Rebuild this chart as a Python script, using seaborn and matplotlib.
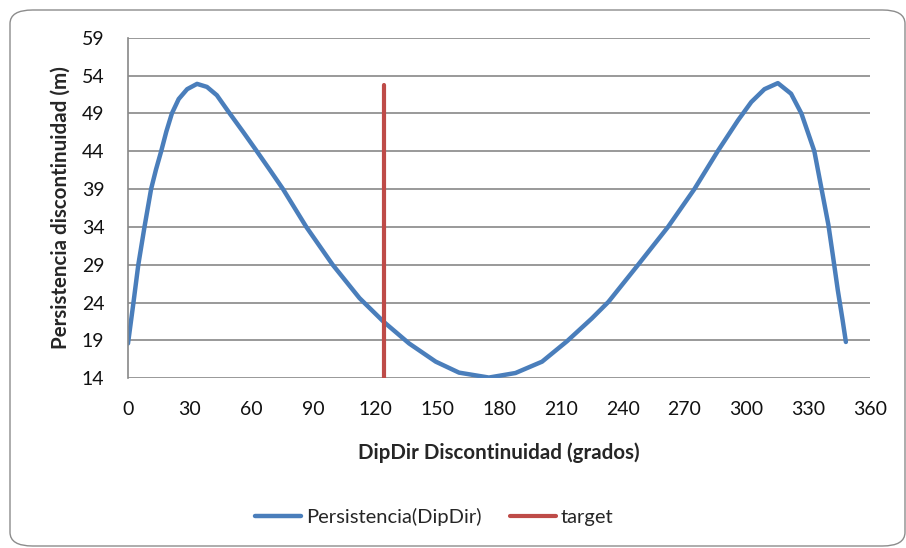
import numpy as np
import pandas as pd
import matplotlib
matplotlib.use("Agg")
import matplotlib.pyplot as plt
import seaborn as sns
from matplotlib.patches import FancyBboxPatch

# Persistencia vs DipDir
dipdir = [0, 2.6, 5.0, 8.0, 11.2, 13.6, 16.1, 18.6, 21.3, 24.6, 28.7, 33.5,
          38.3, 43.1, 48.8, 56.0, 62.5, 68.9, 75.2, 86.5, 99.3, 112.3, 123.9,
          136.4, 149.3, 160.6, 175.1, 188.0, 200.9, 213.0, 225.0, 233.1,
          247.5, 262.0, 274.8, 286.1, 296.0, 302.4, 308.8, 315.3, 321.7,
          326.7, 333.0, 336.5, 339.8, 342.0, 344.4, 346.7, 348.3]
persistencia = [18.6, 23.9, 29.0, 34.0, 39.0, 41.6, 44.0, 46.6, 49.0, 50.9,
                52.2, 52.9, 52.5, 51.4, 49.2, 46.5, 44.0, 41.5, 39.0, 34.0,
                29.0, 24.6, 21.5, 18.6, 16.2, 14.75, 14.1, 14.7, 16.2, 18.9,
                21.9, 24.1, 29.0, 34.0, 39.0, 44.0, 48.1, 50.5, 52.2, 53.0,
                51.6, 49.0, 44.0, 39.0, 34.3, 30.2, 25.6, 21.7, 18.8]

target_x = [124.3, 124.3]
target_y = [14, 52.8]

yticks = list(range(14, 60, 5))
xticks = list(range(0, 361, 30))

sns.set_theme(style="white")
plt.rcParams["font.family"] = ["Lato", "DejaVu Sans"]

fig = plt.figure(figsize=(9.06, 5.48), dpi=100)
fig.patches.append(FancyBboxPatch((10 / 906, 2 / 548), 895 / 906, 536 / 548,
                                  boxstyle="round,pad=0,rounding_size=0.025",
                                  transform=fig.transFigure, facecolor="white",
                                  edgecolor="#8c8c8c", lw=1.0, zorder=-10))

ax = fig.add_axes([128 / 906, 1 - 378.3 / 548, 742 / 906, 340.6 / 548])
ax.set_facecolor("none")

df = pd.DataFrame({"DipDir": dipdir, "Persistencia": persistencia})
sns.lineplot(data=df, x="DipDir", y="Persistencia", ax=ax, color="#4A7EBB",
             lw=3.2, sort=False, estimator=None, label="Persistencia(DipDir)")
sns.lineplot(x=target_x, y=target_y, ax=ax, color="#BE4B48", lw=3,
             estimator=None, sort=False, label="target")

ax.set_xlim(0, 360)
ax.set_ylim(14, 59)
ax.set_xticks(xticks)
ax.set_yticks(yticks)
ax.yaxis.grid(True, color="#888888", lw=1.2)
ax.xaxis.grid(False)
for side in ["top", "right", "bottom"]:
    ax.spines[side].set_visible(False)
ax.spines["left"].set_color("#888888")
ax.spines["left"].set_linewidth(1.2)
ax.tick_params(axis="both", length=0, labelsize=14, colors="#111111")
ax.tick_params(axis="y", pad=17)
ax.tick_params(axis="x", pad=16)

ax.set_xlabel("DipDir Discontinuidad (grados)", fontsize=14.8,
              fontweight="bold", labelpad=18)
ax.set_ylabel("Persistencia discontinuidad (m)", fontsize=14.8,
              fontweight="bold", labelpad=8)

ax.legend(loc="center", bbox_to_anchor=(0.413, -0.407), ncol=2, frameon=False,
          fontsize=14.5, handlelength=2.25, handletextpad=0.25,
          columnspacing=1.45)

fig.savefig("out.png", dpi=100)
